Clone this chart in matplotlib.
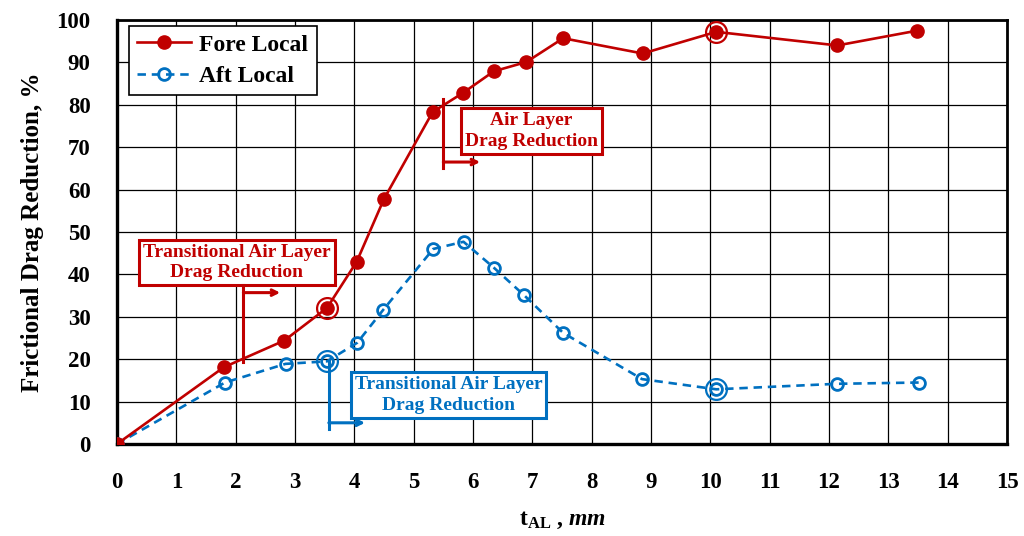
import numpy as np
import matplotlib
matplotlib.use('Agg')
import matplotlib.pyplot as plt

# data
fore_x = [0, 1.80, 2.82, 3.54, 4.04, 4.50, 5.32, 5.83, 6.35, 6.90, 7.52, 8.86, 10.10, 12.14, 13.49]
fore_y = [0, 18.1, 24.4, 32.1, 43.0, 57.8, 78.3, 82.8, 87.9, 90.1, 95.7, 92.1, 97.2, 94.0, 97.5]
aft_x = [0, 1.82, 2.84, 3.54, 4.05, 4.49, 5.33, 5.84, 6.35, 6.86, 7.52, 8.85, 10.10, 12.14, 13.52]
aft_y = [0, 14.5, 18.9, 19.5, 23.9, 31.7, 46.0, 47.7, 41.6, 35.1, 26.2, 15.3, 12.9, 14.2, 14.5]
# highlighted transition points (index into the series)
fore_marks = [3, 12]
aft_marks = [3, 12]

x_ticks = list(range(0, 16))
y_ticks = list(range(0, 101, 10))

RED = '#C00000'
BLUE = '#0070C0'

plt.rcParams['font.family'] = ['Liberation Serif', 'DejaVu Serif']
plt.rcParams['font.weight'] = 'bold'
plt.rcParams['mathtext.fontset'] = 'custom'
plt.rcParams['mathtext.rm'] = 'Liberation Serif:bold'
plt.rcParams['mathtext.it'] = 'Liberation Serif:bold:italic'
plt.rcParams['mathtext.bf'] = 'Liberation Serif:bold'

fig = plt.figure(figsize=(10.24, 5.36), dpi=100)
ax = fig.add_axes([117/1024, 1 - 444/536, 890/1024, 424/536])

ax.plot(fore_x, fore_y, color=RED, lw=1.9, marker='o', ms=9.5, mfc=RED, mec=RED, label='Fore Local', zorder=4)
ax.plot(aft_x, aft_y, color=BLUE, lw=1.9, ls=(0, (3.2, 2.2)), marker='o', ms=8.5, mfc='none', mec=BLUE,
        mew=2, label='Aft Local', zorder=3)

ax.plot([fore_x[i] for i in fore_marks], [fore_y[i] for i in fore_marks], ls='none', marker='o', ms=15,
        mfc='none', mec=RED, mew=1.6, zorder=5)
ax.plot([aft_x[i] for i in aft_marks], [aft_y[i] for i in aft_marks], ls='none', marker='o', ms=15,
        mfc='none', mec=BLUE, mew=1.6, zorder=5)

ax.set_xlim(0, 15)
ax.set_ylim(0, 100)
ax.set_xticks(x_ticks)
ax.set_yticks(y_ticks)
ax.tick_params(length=0, labelsize=16.5, pad=20)
ax.tick_params(axis='y', pad=19)
for lab in ax.get_xticklabels() + ax.get_yticklabels():
    lab.set_fontweight('bold')
ax.grid(True, color='black', lw=0.9)
ax.set_axisbelow(True)
for side in ['left', 'bottom']:
    ax.spines[side].set_linewidth(2.4)
for side in ['top', 'right']:
    ax.spines[side].set_linewidth(2.0)

ax.set_ylabel('Frictional Drag Reduction, %', fontsize=18, fontweight='bold', labelpad=9)
ax.set_xlabel(r'$\mathrm{t}_{\mathrm{AL}}$ , $mm$', fontsize=17, fontweight='bold', labelpad=12)

leg = ax.legend(loc='upper left', bbox_to_anchor=(0.013, 0.986), borderaxespad=0, fancybox=False,
                edgecolor='black', framealpha=1, prop={'size': 17, 'weight': 'bold'},
                handlelength=2.3, handletextpad=0.35, borderpad=0.35, labelspacing=0.42)
leg.get_frame().set_linewidth(1.2)

# annotation boxes and brackets
def label_box(x, y, text, color):
    ax.text(x, y, text, color=color, fontsize=14, fontweight='bold', ha='center', va='center',
            linespacing=1.3, zorder=6,
            bbox=dict(boxstyle='square,pad=0.2', fc='white', ec=color, lw=2.2))

def bracket(x, y_top, y_bot, y_arrow, x_end, color):
    ax.plot([x, x], [y_top, y_bot], color=color, lw=2.2, zorder=6)
    ax.annotate('', xy=(x_end, y_arrow), xytext=(x, y_arrow), zorder=6,
                arrowprops=dict(arrowstyle='->', color=color, lw=2.2, shrinkA=0, shrinkB=0))

label_box(6.98, 73.8, 'Air Layer\nDrag Reduction', RED)
bracket(5.50, 81.3, 65.1, 66.5, 6.12, RED)
label_box(2.02, 42.8, 'Transitional Air Layer\nDrag Reduction', RED)
bracket(2.13, 37.5, 19.4, 35.7, 2.75, RED)
label_box(5.59, 11.6, 'Transitional Air Layer\nDrag Reduction', BLUE)
bracket(3.57, 19.8, 3.5, 5.0, 4.18, BLUE)

fig.savefig('out.png', dpi=100)
